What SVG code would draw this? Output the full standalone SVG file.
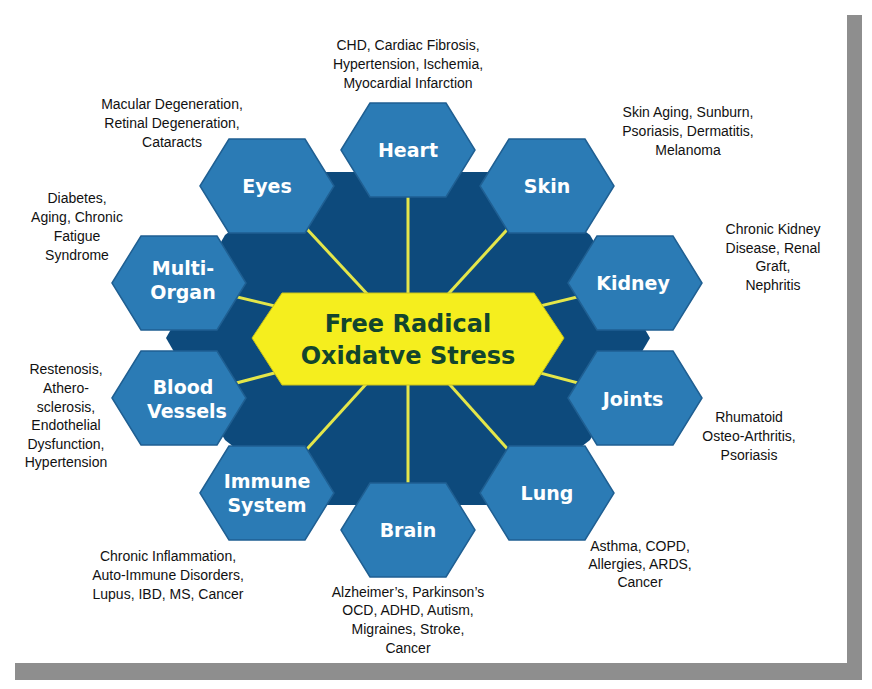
<svg xmlns="http://www.w3.org/2000/svg" width="872" height="689" viewBox="0 0 872 689">
<defs>
<style>
.hex{fill:#2b7bb5;stroke:#1f5f92;stroke-width:1.5}
.ht{font-family:"DejaVu Sans",sans-serif;font-weight:bold;font-size:19px;fill:#fff;text-anchor:middle}
.lb{font-family:"Liberation Sans",Arial,sans-serif;font-size:14px;fill:#111;text-anchor:middle}
.sp{stroke:#e4e64a;stroke-width:3}
</style>
<polygon id="h" points="-67,0 -38,-47 38,-47 67,0 38,47 -38,47"/>
</defs>
<rect width="872" height="689" fill="#fff"/>
<rect x="847" y="15" width="15" height="665" fill="#8e8e8e"/>
<rect x="15" y="663" width="847" height="17" fill="#8e8e8e"/>
<polygon points="307,172 507,172 590,235 650,338 590,440 507,505 307,505 225,440 166,338 225,235" fill="#0d4a7c"/>
<g id="connectors">
<line class="sp" x1="408" y1="338" x2="408" y2="150"/>
<line class="sp" x1="408" y1="338" x2="267" y2="186"/>
<line class="sp" x1="408" y1="338" x2="547" y2="186"/>
<line class="sp" x1="408" y1="338" x2="179" y2="283"/>
<line class="sp" x1="408" y1="338" x2="635" y2="283"/>
<line class="sp" x1="408" y1="338" x2="179" y2="398"/>
<line class="sp" x1="408" y1="338" x2="635" y2="398"/>
<line class="sp" x1="408" y1="338" x2="267" y2="493"/>
<line class="sp" x1="408" y1="338" x2="547" y2="493"/>
<line class="sp" x1="408" y1="338" x2="408" y2="530"/>
</g>
<g id="center">
<polygon points="252,338 282,293 534,293 564,338 534,385 282,385" fill="#f5ee1e" stroke="#c9c21a" stroke-width="1"/>
<text x="408" y="332" font-family="DejaVu Sans,sans-serif" font-weight="bold" font-size="24" fill="#12452e" text-anchor="middle">Free Radical</text>
<text x="408" y="364" font-family="DejaVu Sans,sans-serif" font-weight="bold" font-size="24" fill="#12452e" text-anchor="middle">Oxidatve Stress</text>
</g>
<g id="heart"><use href="#h" class="hex" x="408" y="150"/><text class="ht" x="408" y="157">Heart</text></g>
<g id="eyes"><use href="#h" class="hex" x="267" y="186"/><text class="ht" x="267" y="193">Eyes</text></g>
<g id="skin"><use href="#h" class="hex" x="547" y="186"/><text class="ht" x="547" y="193">Skin</text></g>
<g id="multi"><use href="#h" class="hex" x="179" y="283"/><text class="ht" x="183" y="275">Multi-</text><text class="ht" x="183" y="299">Organ</text></g>
<g id="kidney"><use href="#h" class="hex" x="635" y="283"/><text class="ht" x="633" y="290">Kidney</text></g>
<g id="blood"><use href="#h" class="hex" x="179" y="398"/><text class="ht" x="183" y="394">Blood</text><text class="ht" x="187" y="418">Vessels</text></g>
<g id="joints"><use href="#h" class="hex" x="635" y="398"/><text class="ht" x="633" y="406">Joints</text></g>
<g id="immune"><use href="#h" class="hex" x="267" y="493"/><text class="ht" x="267" y="488">Immune</text><text class="ht" x="267" y="512">System</text></g>
<g id="lung"><use href="#h" class="hex" x="547" y="493"/><text class="ht" x="547" y="500">Lung</text></g>
<g id="brain"><use href="#h" class="hex" x="408" y="530"/><text class="ht" x="408" y="537">Brain</text></g>
<g id="labels">
<text class="lb" x="408" y="50">CHD, Cardiac Fibrosis,</text><text class="lb" x="408" y="69">Hypertension, Ischemia,</text><text class="lb" x="408" y="88">Myocardial Infarction</text>
<text class="lb" x="172" y="109">Macular Degeneration,</text><text class="lb" x="172" y="128">Retinal Degeneration,</text><text class="lb" x="172" y="147">Cataracts</text>
<text class="lb" x="688" y="117">Skin Aging, Sunburn,</text><text class="lb" x="688" y="136">Psoriasis, Dermatitis,</text><text class="lb" x="688" y="155">Melanoma</text>
<text class="lb" x="773" y="234">Chronic Kidney</text><text class="lb" x="773" y="253">Disease, Renal</text><text class="lb" x="773" y="271">Graft,</text><text class="lb" x="773" y="290">Nephritis</text>
<text class="lb" x="77" y="203">Diabetes,</text><text class="lb" x="77" y="222">Aging, Chronic</text><text class="lb" x="77" y="241">Fatigue</text><text class="lb" x="77" y="260">Syndrome</text>
<text class="lb" x="66" y="374">Restenosis,</text><text class="lb" x="66" y="393">Athero-</text><text class="lb" x="66" y="412">sclerosis,</text><text class="lb" x="66" y="430">Endothelial</text><text class="lb" x="66" y="449">Dysfunction,</text><text class="lb" x="66" y="467">Hypertension</text>
<text class="lb" x="749" y="422">Rhumatoid</text><text class="lb" x="749" y="441">Osteo-Arthritis,</text><text class="lb" x="749" y="460">Psoriasis</text>
<text class="lb" x="640" y="551">Asthma, COPD,</text><text class="lb" x="640" y="569">Allergies, ARDS,</text><text class="lb" x="640" y="587">Cancer</text>
<text class="lb" x="168" y="561">Chronic Inflammation,</text><text class="lb" x="168" y="580">Auto-Immune Disorders,</text><text class="lb" x="168" y="599">Lupus, IBD, MS, Cancer</text>
<text class="lb" x="408" y="597">Alzheimer’s, Parkinson’s</text><text class="lb" x="408" y="615">OCD, ADHD, Autism,</text><text class="lb" x="408" y="634">Migraines, Stroke,</text><text class="lb" x="408" y="653">Cancer</text>
</g>
</svg>
